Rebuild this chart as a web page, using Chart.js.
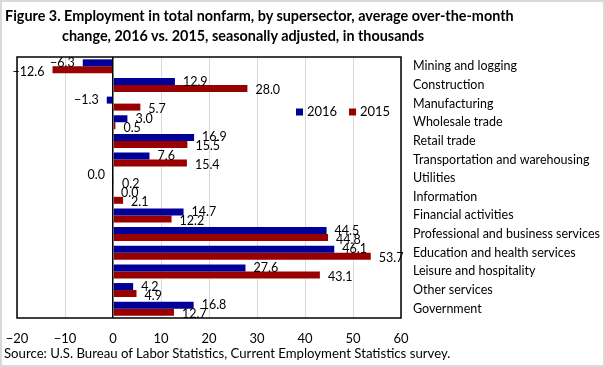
<!DOCTYPE html>
<html>
<head>
<meta charset="utf-8">
<script src="https://cdn.jsdelivr.net/npm/chart.js@4.4.0/dist/chart.umd.min.js"></script>
<style>
  html, body { margin: 0; padding: 0; background: #fff; }
  #chart { position: absolute; left: 0; top: 0; }
  .title { position: absolute; font-family: "Liberation Sans Narrow", "Lato", sans-serif; font-weight: bold; font-size: 14.4px; color: #000; white-space: nowrap; }
  #source { position: absolute; left: 4px; top: 345px; font-family: "Lato", sans-serif; font-size: 13.2px; color: #000; white-space: nowrap; }
  #frame { position: absolute; left: 0; top: 0; width: 601px; height: 363px; border: 2px solid #d9d9d9; pointer-events: none; }
</style>
</head>
<body>
<canvas id="chart" width="605" height="367"></canvas>
<div class="title" style="left:5px; top:7px;">Figure 3. Employment in total nonfarm, by supersector, average over-the-month</div>
<div class="title" style="left:62px; top:27px;">change, 2016 vs. 2015, seasonally adjusted, in thousands</div>
<div id="source">Source: U.S. Bureau of Labor Statistics, Current Employment Statistics survey.</div>
<div id="frame"></div>
<script>
const categories = [
  "Mining and logging",
  "Construction",
  "Manufacturing",
  "Wholesale trade",
  "Retail trade",
  "Transportation and warehousing",
  "Utilities",
  "Information",
  "Financial activities",
  "Professional and business services",
  "Education and health services",
  "Leisure and hospitality",
  "Other services",
  "Government",
];
// -0 for utilities 2016: rounds to 0.0 but the label sits on the negative side
const values2016 = [-6.3, 12.9, -1.3, 3.0, 16.9, 7.6, -0, 0.0, 14.7, 44.5, 46.1, 27.6, 4.2, 16.8];
const values2015 = [-12.6, 28.0, 5.7, 0.5, 15.5, 15.4, 0.2, 2.1, 12.2, 44.8, 53.7, 43.1, 4.9, 12.7];
const xTicks = [-20, -10, 0, 10, 20, 30, 40, 50, 60];

const blue = "#000099";
const red = "#990000";
const labelFont = { family: "Lato", size: 12.5 };

function fmt(v) {
  return (v < 0 ? "\u2212" : "") + Math.abs(v).toFixed(1);
}
function fmtTick(v) {
  return (v < 0 ? "\u2212" : "") + Math.abs(v);
}

const framePlugin = {
  id: "frame",
  afterDatasetsDraw(chart) {
    const { ctx, chartArea: a } = chart;
    ctx.save();
    ctx.strokeStyle = "#000";
    ctx.lineWidth = 1.5;
    ctx.strokeRect(a.left, a.top, a.right - a.left, a.bottom - a.top);
    ctx.restore();
  },
};

const valueLabels = {
  id: "valueLabels",
  afterDatasetsDraw(chart) {
    const ctx = chart.ctx;
    ctx.save();
    ctx.font = `${labelFont.size}px ${labelFont.family}`;
    ctx.fillStyle = "#000";
    ctx.textBaseline = "middle";
    chart.data.datasets.forEach((ds, i) => {
      const meta = chart.getDatasetMeta(i);
      meta.data.forEach((bar, j) => {
        const v = ds.data[j];
        const left = v < 0 || Object.is(v, -0);
        const base = chart.scales.x.getPixelForValue(0);
        const dy = i === 1 ? 2 : 0;
        if (left) {
          ctx.textAlign = "right";
          ctx.fillText(fmt(v), Math.min(bar.x, base) - 8, bar.y + dy);
        } else {
          ctx.textAlign = "left";
          ctx.fillText(fmt(v), Math.max(bar.x, base) + 8, bar.y + dy);
        }
      });
    });
    ctx.restore();
  },
};

const legendBox = {
  id: "legendBox",
  afterDraw(chart) {
    const ctx = chart.ctx;
    const a = chart.chartArea;
    let x = a.right - 105;
    const y = a.top + 55;
    ctx.save();
    ctx.font = `${labelFont.size + 0.5}px ${labelFont.family}`;
    ctx.textBaseline = "middle";
    ctx.textAlign = "left";
    chart.data.datasets.forEach((ds) => {
      ctx.fillStyle = ds.backgroundColor;
      ctx.fillRect(x, y - 3.5, 7, 7);
      ctx.fillStyle = "#000";
      ctx.fillText(ds.label, x + 11, y);
      x += 53;
    });
    ctx.restore();
  },
};

new Chart(document.getElementById("chart").getContext("2d"), {
  type: "bar",
  data: {
    labels: categories,
    datasets: [
      { label: "2016", data: values2016, backgroundColor: blue },
      { label: "2015", data: values2015, backgroundColor: red },
    ],
  },
  options: {
    indexAxis: "y",
    responsive: false,
    animation: false,
    layout: { padding: { top: 57, left: 17, bottom: 19, right: 0 } },
    datasets: { bar: { categoryPercentage: 0.75, barPercentage: 1 } },
    plugins: {
      legend: { display: false },
      tooltip: { enabled: false },
    },
    scales: {
      x: {
        min: -20,
        max: 60,
        afterBuildTicks: (s) => { s.ticks = xTicks.map((v) => ({ value: v })); },
        afterFit: (s) => { s.height = 30; s.paddingLeft = 0; s.paddingRight = 0; },
        grid: {
          drawTicks: false,
          color: (c) => (c.tick && c.tick.value === 0 ? "#000" : "#d9d9d9"),
          lineWidth: (c) => (c.tick && c.tick.value === 0 ? 1.5 : 1),
        },
        border: { display: false },
        ticks: { padding: 13, color: "#000", font: { family: "Lato", size: 13 }, callback: fmtTick },
      },
      y: {
        position: "right",
        afterFit: (s) => { s.width = 204; },
        grid: { display: false, drawTicks: false },
        border: { display: false },
        ticks: { crossAlign: "near", padding: 12, autoSkip: false, color: "#000", font: { family: "Lato", size: 12.5 } },
      },
    },
  },
  plugins: [framePlugin, valueLabels, legendBox],
});
</script>
</body>
</html>
